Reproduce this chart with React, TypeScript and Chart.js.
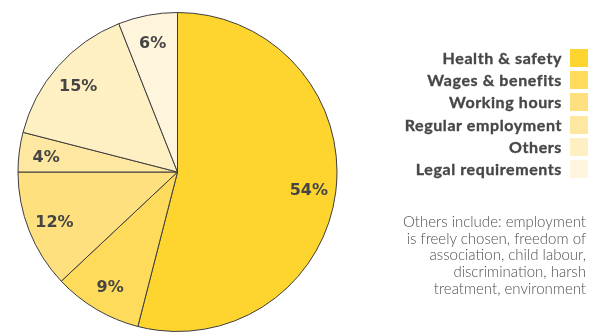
import React, { useEffect, useRef } from "react";
import { Chart, registerables } from "chart.js";

Chart.register(...registerables);

const categories = [
  "Health & safety",
  "Wages & benefits",
  "Working hours",
  "Regular employment",
  "Others",
  "Legal requirements",
];
const shares = [54, 9, 12, 4, 15, 6];
const sliceColors = ["#FDD52E", "#FEDB5A", "#FEE07F", "#FEE7A0", "#FFF0C3", "#FFF5DC"];
const noteLines = [
  "Others include: employment",
  "is freely chosen, freedom of",
  "association, child labour,",
  "discrimination, harsh",
  "treatment, environment",
];

const labelPlugin = {
  id: "sliceLabels",
  afterDatasetsDraw(chart: any) {
    const ctx = chart.ctx;
    const meta = chart.getDatasetMeta(0);
    ctx.save();
    ctx.font = "bold 16px 'DejaVu Sans'";
    ctx.fillStyle = "#454545";
    ctx.textAlign = "center";
    ctx.textBaseline = "middle";
    meta.data.forEach((arc: any, i: number) => {
      const p = arc.getProps(["x", "y", "startAngle", "endAngle", "outerRadius"], true);
      const mid = (p.startAngle + p.endAngle) / 2;
      const r = p.outerRadius * 0.83;
      ctx.fillText(shares[i] + "%", p.x + Math.cos(mid) * r, p.y + Math.sin(mid) * r + 2);
    });
    ctx.restore();
  },
};

export default function App() {
  const ref = useRef<HTMLCanvasElement>(null);
  useEffect(() => {
    document.body.style.margin = "0";
    const chart = new Chart(ref.current as HTMLCanvasElement, {
      type: "pie",
      data: {
        labels: categories,
        datasets: [
          {
            data: shares,
            backgroundColor: sliceColors,
            borderColor: "#3d3d3d",
            borderWidth: 1,
          },
        ],
      },
      options: {
        responsive: false,
        animation: false,
        layout: { padding: { left: 17, top: 12, right: 251, bottom: 2 } },
        plugins: { legend: { display: false }, tooltip: { enabled: false } },
      },
      plugins: [labelPlugin],
    });
    return () => chart.destroy();
  }, []);

  return (
    <div style={{ position: "relative", width: 589, height: 334, overflow: "hidden", background: "#fff" }}>
      <canvas ref={ref} width={589} height={334} style={{ position: "absolute", left: 0, top: 0 }} />
      <div style={{ position: "absolute", left: 380, top: 49, width: 209 }}>
        {categories.map((c, i) => (
          <div key={c} style={{ position: "relative", height: 22.2 }}>
            <span
              style={{
                position: "absolute",
                right: 27,
                top: -1,
                lineHeight: "18px",
                font: "bold 16px Lato",
                letterSpacing: "0.6px",
                WebkitTextStroke: "0.35px #474747",
                color: "#474747",
                whiteSpace: "nowrap",
              }}
            >
              {c}
            </span>
            <span
              style={{
                position: "absolute",
                left: 190,
                top: 0,
                width: 18,
                height: 18,
                background: sliceColors[i],
              }}
            />
          </div>
        ))}
      </div>
      <div
        style={{
          position: "absolute",
          right: 3,
          top: 213,
          textAlign: "right",
          font: "300 15px Lato",
          lineHeight: "16.7px",
          color: "#505050",
          whiteSpace: "nowrap",
        }}
      >
        {noteLines.map((l) => (
          <div key={l}>{l}</div>
        ))}
      </div>
    </div>
  );
}
